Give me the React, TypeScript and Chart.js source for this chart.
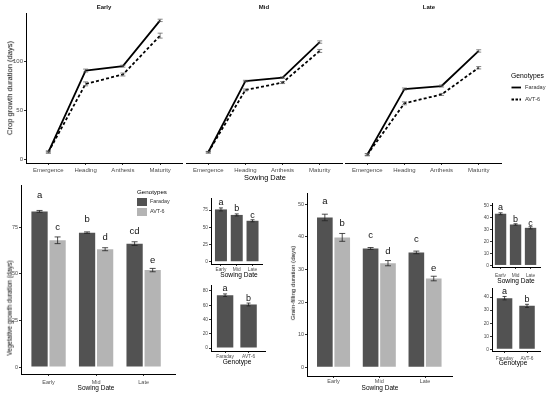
import React, { useEffect, useRef } from "react";
import { Chart, registerables } from "chart.js";

Chart.register(...registerables);

const FONT = "'Liberation Sans', Arial, Helvetica, sans-serif";
const TICK_COLOR = "#4d4d4d";
const DARK = "#525252";
const LIGHT = "#b4b4b4";

// ---------- Top: crop growth duration by stage ----------
const stages = ["Emergence", "Heading", "Anthesis", "Maturity"];
const stageTicks = [0, 50, 100];
const earlyFaraday = [7.7, 90.5, 95, 141.5];
const earlyFaradayErr = [1, 1.5, 1, 1.2];
const earlyAvt6 = [7.7, 77, 86.5, 126];
const earlyAvt6Err = [1, 2, 1.5, 2.5];
const midFaraday = [7.5, 79.5, 83, 119];
const midFaradayErr = [0.8, 0.8, 0.8, 1.2];
const midAvt6 = [7.5, 70.5, 78, 110];
const midAvt6Err = [0.8, 1, 1, 1.5];
const lateFaraday = [5, 71.5, 74.5, 110];
const lateFaradayErr = [1, 1, 1, 1.2];
const lateAvt6 = [5, 57, 66, 93];
const lateAvt6Err = [1, 1.5, 1, 1.2];

// ---------- Vegetative growth duration ----------
const sowingDates = ["Early", "Mid", "Late"];
const genotypes = ["Faraday", "AVT-6"];
const vegTicks = [0, 25, 50, 75];
const vegFaraday = [83.5, 72.1, 66.2];
const vegFaradayErr = [0.5, 0.4, 1.0];
const vegFaradayLetters = ["a", "b", "cd"];
const vegAvt6 = [68, 63.2, 52];
const vegAvt6Err = [1.8, 0.8, 0.9];
const vegAvt6Letters = ["c", "d", "e"];
const vegBySowing = [76, 68, 59.5];
const vegBySowingErr = [2.2, 1.5, 1.5];
const vegBySowingLetters = ["a", "b", "c"];
const vegGenoTicks = [0, 20, 40, 60, 80];
const vegByGenotype = [74, 61];
const vegByGenotypeErr = [1.8, 2];
const vegByGenotypeLetters = ["a", "b"];

// ---------- Grain filling duration ----------
const grainTicks = [0, 10, 20, 30, 40, 50];
const grainFaraday = [45.9, 36.4, 35.2];
const grainFaradayErr = [1.0, 0.3, 0.4];
const grainFaradayLetters = ["a", "c", "c"];
const grainAvt6 = [39.8, 31.9, 27.2];
const grainAvt6Err = [1.2, 0.8, 0.7];
const grainAvt6Letters = ["b", "d", "e"];
const grainSowTicks = [0, 10, 20, 30, 40, 50];
const grainBySowing = [43.3, 34.3, 31.5];
const grainBySowingErr = [0.8, 0.6, 0.9];
const grainBySowingLetters = ["a", "b", "c"];
const grainGenoTicks = [0, 10, 20, 30, 40];
const grainByGenotype = [39.2, 33.3];
const grainByGenotypeErr = [1.3, 1.2];
const grainByGenotypeLetters = ["a", "b"];

const annotPlugin = {
  id: "annot",
  afterDatasetsDraw(chart: any) {
    const ctx = chart.ctx;
    const y = chart.scales.y;
    chart.data.datasets.forEach((ds: any, di: number) => {
      const meta = chart.getDatasetMeta(di);
      meta.data.forEach((el: any, i: number) => {
        const v = ds.data[i].y;
        const x = el.x;
        if (ds.errors) {
          const e = ds.errors[i];
          const y1 = y.getPixelForValue(v - e);
          const y2 = y.getPixelForValue(v + e);
          const cw = ds.capWidth;
          ctx.save();
          ctx.strokeStyle = ds.errColor;
          ctx.lineWidth = ds.errWidth;
          ctx.setLineDash([]);
          ctx.beginPath();
          ctx.moveTo(x, y1);
          ctx.lineTo(x, y2);
          ctx.moveTo(x - cw / 2, y1);
          ctx.lineTo(x + cw / 2, y1);
          ctx.moveTo(x - cw / 2, y2);
          ctx.lineTo(x + cw / 2, y2);
          ctx.stroke();
          ctx.restore();
        }
        if (ds.letters) {
          ctx.save();
          ctx.fillStyle = "#111";
          ctx.font = `${ds.letterSize}px ${FONT}`;
          ctx.textAlign = "center";
          ctx.textBaseline = "middle";
          ctx.fillText(ds.letters[i], x, y.getPixelForValue(v * ds.letterFactor));
          ctx.restore();
        }
      });
    });
  },
};

function xAxis(labels: string[], min: number, max: number, xh: number, size: number, pad: number) {
  return {
    type: "linear",
    min,
    max,
    offset: false,
    afterBuildTicks: (s: any) => {
      s.ticks = labels.map((_, i) => ({ value: i }));
    },
    afterFit: (s: any) => {
      s.height = xh;
    },
    ticks: {
      callback: (v: number) => labels[v] ?? "",
      color: TICK_COLOR,
      font: { family: FONT, size },
      padding: pad,
      autoSkip: false,
      maxRotation: 0,
      minRotation: 0,
    },
    grid: { display: true, drawOnChartArea: false, drawTicks: true, tickLength: 2, color: "#333", offset: false },
    border: { display: true, color: "#000", width: 1 },
  };
}

function yAxis(ticks: number[], min: number, max: number, yw: number, size: number, show: boolean) {
  return {
    type: "linear",
    min,
    max,
    beginAtZero: false,
    afterBuildTicks: (s: any) => {
      s.ticks = ticks.map((v) => ({ value: v }));
    },
    afterFit: (s: any) => {
      s.width = yw;
    },
    ticks: { display: show, color: TICK_COLOR, font: { family: FONT, size }, padding: 1, autoSkip: false },
    grid: { display: show, drawOnChartArea: false, drawTicks: true, tickLength: 2, color: "#333" },
    border: { display: show, color: "#000", width: 1 },
  };
}

type Area = { l: number; r: number; t: number; b: number };

function ChartBox({ area, yw, xh, padT, padR, build }: { area: Area; yw: number; xh: number; padT: number; padR: number; build: () => any }) {
  const ref = useRef<HTMLCanvasElement>(null);
  const left = area.l - yw;
  const top = area.t - padT;
  const w = Math.round(area.r - area.l + yw + padR);
  const h = Math.round(area.b - area.t + padT + xh);
  useEffect(() => {
    const cfg = build();
    cfg.options = {
      ...cfg.options,
      responsive: false,
      animation: false,
      devicePixelRatio: 1,
      events: [],
      layout: { padding: { top: padT, right: w - (area.r - area.l + yw), left: 0, bottom: 0 } },
      plugins: { legend: { display: false }, tooltip: { enabled: false }, title: { display: false } },
    };
    cfg.plugins = [annotPlugin];
    const c = new Chart(ref.current as HTMLCanvasElement, cfg);
    return () => c.destroy();
  }, []);
  return (
    <canvas
      ref={ref}
      width={w}
      height={h}
      style={{ position: "absolute", left, top, width: w, height: h }}
    />
  );
}

function lineDs(values: number[], errs: number[], dashed: boolean) {
  return {
    data: values.map((v, i) => ({ x: i, y: v })),
    borderColor: "#000",
    borderWidth: 1.8,
    borderDash: dashed ? [3, 2.2] : [],
    pointRadius: 0,
    tension: 0,
    fill: false,
    errors: errs,
    capWidth: 5,
    errColor: "#555",
    errWidth: 0.7,
  };
}

function lineConfig(f: number[], fe: number[], a: number[], ae: number[], showY: boolean) {
  return () => ({
    type: "line",
    data: { datasets: [lineDs(a, ae, true), lineDs(f, fe, false)] },
    options: {
      scales: {
        x: xAxis(stages, -0.6, 3.6, 12, 6, 1.3),
        y: yAxis(stageTicks, -3.4, 148.4, 20, 6, showY),
      },
    },
  });
}

function barDs(values: number[], errs: number[], letters: string[], color: string, cap: number, letterSize: number, factor: number, cat: number, bp: number) {
  return {
    data: values.map((v, i) => ({ x: i, y: v })),
    backgroundColor: color,
    borderWidth: 0,
    categoryPercentage: cat,
    barPercentage: bp,
    errors: errs,
    letters,
    capWidth: cap,
    errColor: "#222",
    errWidth: 0.8,
    letterSize,
    letterFactor: factor,
  };
}

function barConfig(datasets: any[], labels: string[], xmin: number, xmax: number, xh: number, xs: number, xpad: number, yticks: number[], ymin: number, ymax: number, yw: number, ys: number) {
  return () => ({
    type: "bar",
    data: { datasets },
    options: {
      scales: {
        x: xAxis(labels, xmin, xmax, xh, xs, xpad),
        y: yAxis(yticks, ymin, ymax, yw, ys, true),
      },
    },
  });
}

function Txt({ x, y, children, size, bold, rot, color = "#111", align = "center" }: any) {
  const tx = align === "left" ? "0" : "-50%";
  return (
    <div
      style={{
        position: "absolute",
        left: x,
        top: y,
        fontFamily: FONT,
        fontSize: size,
        fontWeight: bold ? 700 : 400,
        color,
        whiteSpace: "nowrap",
        lineHeight: 1,
        transform: `translate(${tx}, -50%)${rot ? " rotate(-90deg)" : ""}`,
      }}
    >
      {children}
    </div>
  );
}

export default function App() {
  return (
    <div style={{ position: "fixed", left: 0, top: 0, width: 550, height: 395, background: "#fff", overflow: "hidden" }}>
      {/* Top facet line charts */}
      <ChartBox area={{ l: 26, r: 182.5, t: 13, b: 162.7 }} yw={20} xh={12} padT={4} padR={4}
        build={lineConfig(earlyFaraday, earlyFaradayErr, earlyAvt6, earlyAvt6Err, true)} />
      <ChartBox area={{ l: 186, r: 342, t: 13, b: 162.7 }} yw={20} xh={12} padT={4} padR={4}
        build={lineConfig(midFaraday, midFaradayErr, midAvt6, midAvt6Err, false)} />
      <ChartBox area={{ l: 345, r: 501, t: 13, b: 162.7 }} yw={20} xh={12} padT={4} padR={4}
        build={lineConfig(lateFaraday, lateFaradayErr, lateAvt6, lateAvt6Err, false)} />
      <Txt x={104} y={7} size={6} bold>Early</Txt>
      <Txt x={264} y={7} size={6} bold>Mid</Txt>
      <Txt x={429} y={7} size={6} bold>Late</Txt>
      <Txt x={10} y={88} size={7.6} rot color="#000">Crop growth duration (days)</Txt>
      <Txt x={265} y={178} size={7.4} color="#000">Sowing Date</Txt>
      <Txt x={511} y={76} size={6.8} align="left" color="#000">Genotypes</Txt>
      <svg style={{ position: "absolute", left: 511, top: 84 }} width={12} height={18}>
        <line x1={0.5} y1={3.5} x2={10} y2={3.5} stroke="#000" strokeWidth={1.8} />
        <line x1={0.5} y1={15.5} x2={10} y2={15.5} stroke="#000" strokeWidth={1.8} strokeDasharray="2.5,1.5" />
      </svg>
      <Txt x={525} y={88} size={5.6} color="#333" align="left">Faraday</Txt>
      <Txt x={525} y={100} size={5.6} color="#333" align="left">AVT-6</Txt>

      {/* Vegetative growth duration */}
      <ChartBox area={{ l: 21, r: 175, t: 185, b: 374 }} yw={16} xh={12} padT={4} padR={4}
        build={barConfig(
          [
            barDs(vegFaraday, vegFaradayErr, vegFaradayLetters, DARK, 6, 9.5, 1.1, 0.76, 0.9),
            barDs(vegAvt6, vegAvt6Err, vegAvt6Letters, LIGHT, 6, 9.5, 1.1, 0.76, 0.9),
          ],
          sowingDates, -0.58, 2.66, 12, 5.5, 3, vegTicks, -3.75, 97.5, 16, 5.5)} />
      <Txt x={10} y={308} size={6.4} rot color="#000">Vegetative growth duration (days)</Txt>
      <Txt x={96} y={388} size={6.5} color="#000">Sowing Date</Txt>
      <Txt x={137} y={192} size={6.2} align="left" color="#000">Genotypes</Txt>
      <div style={{ position: "absolute", left: 137, top: 198, width: 10, height: 8, background: DARK }} />
      <div style={{ position: "absolute", left: 137, top: 208, width: 10, height: 8, background: LIGHT }} />
      <Txt x={150} y={202} size={5.4} color="#333" align="left">Faraday</Txt>
      <Txt x={150} y={212} size={5.4} color="#333" align="left">AVT-6</Txt>

      {/* Vegetative insets */}
      <ChartBox area={{ l: 211, r: 262, t: 198, b: 264 }} yw={12} xh={9} padT={12} padR={3}
        build={barConfig(
          [barDs(vegBySowing, vegBySowingErr, vegBySowingLetters, DARK, 4, 9, 1.13, 1, 0.76)],
          sowingDates, -0.63, 2.6, 9, 4.8, 0.6, vegTicks, -3.3, 92.6, 12, 4.8)} />
      <Txt x={239} y={275} size={6.6} color="#000">Sowing Date</Txt>
      <ChartBox area={{ l: 211, r: 265, t: 285, b: 350.7 }} yw={12} xh={9} padT={8} padR={3}
        build={barConfig(
          [barDs(vegByGenotype, vegByGenotypeErr, vegByGenotypeLetters, DARK, 4, 9, 1.13, 1, 0.7)],
          genotypes, -0.6, 1.7, 9, 4.8, 1, vegGenoTicks, -4.2, 88.3, 12, 4.8)} />
      <Txt x={237} y={362} size={6.6} color="#000">Genotype</Txt>

      {/* Grain filling duration */}
      <ChartBox area={{ l: 307, r: 452.5, t: 193.3, b: 376.7 }} yw={14} xh={12} padT={4} padR={4}
        build={barConfig(
          [
            barDs(grainFaraday, grainFaradayErr, grainFaradayLetters, DARK, 6, 9.5, 1.11, 0.76, 0.9),
            barDs(grainAvt6, grainAvt6Err, grainAvt6Letters, LIGHT, 6, 9.5, 1.11, 0.76, 0.9),
          ],
          sowingDates, -0.58, 2.6, 12, 5.5, 0.5, grainTicks, -2.65, 53.3, 14, 5.5)} />
      <Txt x={293} y={283} size={6.2} rot color="#000">Grain-filling duration (days)</Txt>
      <Txt x={380} y={388} size={6.5} color="#000">Sowing Date</Txt>

      {/* Grain insets */}
      <ChartBox area={{ l: 492, r: 540, t: 203, b: 266.5 }} yw={12} xh={10} padT={10} padR={3}
        build={barConfig(
          [barDs(grainBySowing, grainBySowingErr, grainBySowingLetters, DARK, 4, 9, 1.12, 1, 0.76)],
          sowingDates, -0.57, 2.63, 10, 4.8, 3.4, grainSowTicks, -1.3, 52.3, 12, 4.8)} />
      <Txt x={516} y={281} size={6.6} color="#000">Sowing Date</Txt>
      <ChartBox area={{ l: 492, r: 540.5, t: 288, b: 351 }} yw={12} xh={10} padT={8} padR={3}
        build={barConfig(
          [barDs(grainByGenotype, grainByGenotypeErr, grainByGenotypeLetters, DARK, 4, 9, 1.14, 1, 0.69)],
          genotypes, -0.56, 1.6, 10, 4.8, 2.5, grainGenoTicks, -1.3, 47, 12, 4.8)} />
      <Txt x={513} y={363} size={6.6} color="#000">Genotype</Txt>
    </div>
  );
}
